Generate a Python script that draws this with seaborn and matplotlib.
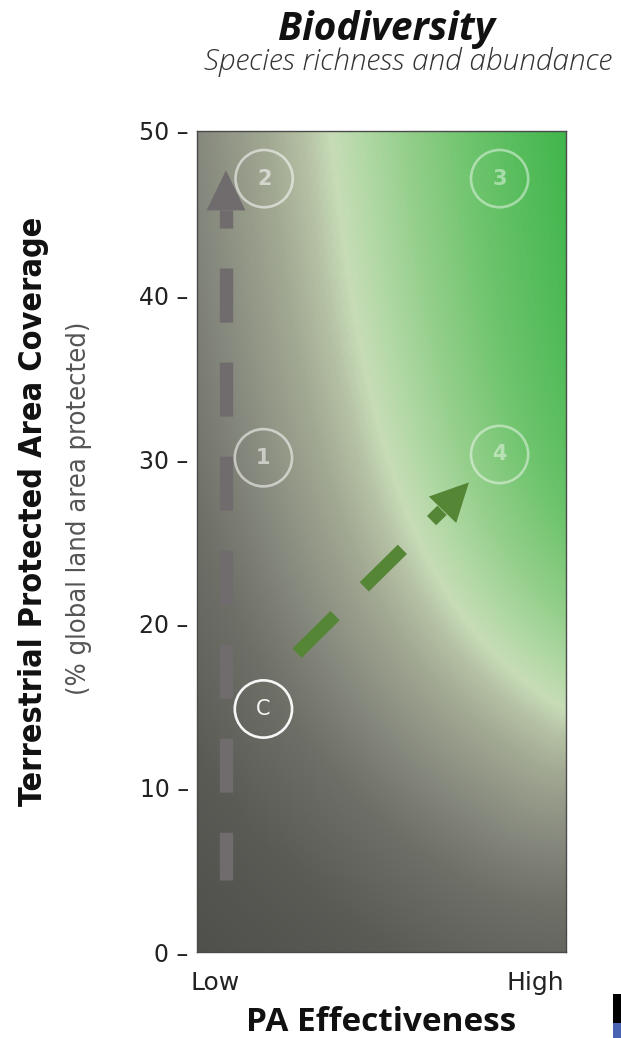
import numpy as np
import matplotlib
matplotlib.use("Agg")
import matplotlib.pyplot as plt
import seaborn as sns
import pandas as pd
from matplotlib.colors import LinearSegmentedColormap
from matplotlib.patches import Rectangle

# ---------------- data ----------------
circle_labels = ["2", "3", "1", "4", "C"]
circle_x = [0.182, 0.820, 0.180, 0.820, 0.180]      # PA effectiveness (0 = Low, 1 = High)
circle_y = [47.1, 47.1, 30.1, 30.3, 14.8]           # % coverage
circle_alpha = [0.55, 0.45, 0.55, 0.45, 0.95]

y_ticks = [0, 10, 20, 30, 40, 50]
x_tick_pos = [0.05, 0.917]
x_tick_labels = ["Low", "High"]

gray_shaft_x = [0.0786, 0.0786]
gray_shaft_y = [45.2, 4.4]
gray_tip = [0.0786, 47.6]

green_shaft_x = [0.271, 0.664]
green_shaft_y = [18.2, 26.9]
green_tip = [0.737, 28.6]

# light band of the background: (x - x0) * (y - y0) = c
band_x0 = 0.15
band_y0 = 3.0
band_c = 10.0

# ---------------- figure ----------------
sns.set_theme(style="white")
plt.rcParams["lines.scale_dashes"] = False
plt.rcParams["font.family"] = ["DejaVu Sans"]

W, H = 621, 1038
fig = plt.figure(figsize=(W / 100, H / 100), dpi=100)
fig.patch.set_facecolor("white")
ax_l, ax_b, ax_w, ax_h = 197, 86, 369, 821
ax = fig.add_axes([ax_l / W, ax_b / H, ax_w / W, ax_h / H])

# background gradient: signed pixel distance to the light band
px_x = ax_w / 1.0
px_y = ax_h / 50.0
nx, ny = 185, 410
gx = np.linspace(0, 1, nx)
gy = np.linspace(0, 50, ny)
cs = np.linspace(band_x0 + 0.004, 1.0, 700)
cy = band_y0 + band_c / (cs - band_x0)
CX, CY = cs * px_x, cy * px_y
field = np.zeros((ny, nx))
for j, yv in enumerate(gy):
    dx = gx[:, None] * px_x - CX[None, :]
    dy = yv * px_y - CY[None, :]
    d = np.sqrt(dx ** 2 + dy ** 2).min(axis=1)
    above = (gx > band_x0) & (yv > band_y0) & ((gx - band_x0) * (yv - band_y0) > band_c)
    field[j] = np.where(above, d, -d)

stops = [(-430, "#4f4f4b"), (-300, "#5a5b55"), (-200, "#6e6f67"), (-130, "#878a7e"),
         (-65, "#a1a892"), (-28, "#b4c0a3"), (0, "#c7dcb7"), (30, "#b3d9a6"),
         (75, "#95cf8c"), (140, "#6dc46c"), (240, "#3fb54b")]
lo, hi = stops[0][0], stops[-1][0]
cmap = LinearSegmentedColormap.from_list(
    "bio", [((v - lo) / (hi - lo), c) for v, c in stops])
ax.imshow(np.clip(field, lo, hi), origin="lower", extent=[0, 1, 0, 50],
          aspect="auto", cmap=cmap, vmin=lo, vmax=hi, interpolation="bilinear",
          zorder=0)

# circles
df = pd.DataFrame({"x": circle_x, "y": circle_y, "label": circle_labels})
for i, row in df.iterrows():
    sns.scatterplot(x=[row.x], y=[row.y], ax=ax, marker="o", s=1700,
                    facecolors="none", edgecolors="white", linewidths=1.9,
                    alpha=circle_alpha[i], zorder=3, legend=False)
    ax.text(row.x, row.y, row.label, ha="center", va="center", color="white",
            alpha=circle_alpha[i], fontsize=15,
            fontweight="normal" if row.label == "C" else "bold", zorder=4)

# gray dashed arrow
gray = "#706b6c"
ax.plot(gray_shaft_x, gray_shaft_y, color=gray, lw=9.6,
        linestyle=(25.9, (38.9, 28.8)), solid_capstyle="butt",
        dash_capstyle="butt", zorder=2)
ax.annotate("", xy=tuple(gray_tip), xytext=(gray_shaft_x[0], gray_shaft_y[0]),
            arrowprops=dict(arrowstyle="-|>,head_length=28.8,head_width=14",
                            mutation_scale=1, color=gray, lw=0,
                            shrinkA=0, shrinkB=0), zorder=2)

# green dashed arrow
green = "#558636"
ax.plot(green_shaft_x, green_shaft_y, color=green, lw=9.4,
        linestyle=(0, (38.5, 29.5)), solid_capstyle="butt",
        dash_capstyle="butt", zorder=2)
ax.annotate("", xy=tuple(green_tip), xytext=(green_shaft_x[1], green_shaft_y[1]),
            arrowprops=dict(arrowstyle="-|>,head_length=27.4,head_width=13.7",
                            mutation_scale=1, color=green, lw=0,
                            shrinkA=0, shrinkB=0), zorder=2)

ax.set_xlim(0, 1)
ax.set_ylim(0, 50)
ax.set_yticks(y_ticks)
ax.set_yticklabels([f"{v} \u2013" for v in y_ticks], fontsize=17, color="#222222")
ax.set_xticks(x_tick_pos)
ax.set_xticklabels(x_tick_labels, fontsize=18, color="#222222")
ax.tick_params(axis="both", length=0)
ax.tick_params(axis="y", pad=6)
ax.tick_params(axis="x", pad=14)
for sp in ax.spines.values():
    sp.set_color("#4a4a4a")
    sp.set_linewidth(1.0)
ax.set_xlabel("")
ax.set_ylabel("")

# texts
fig.text(386 / W, 1 - 40 / H, "Biodiversity", ha="center", va="baseline",
         fontsize=28, fontweight="bold", fontstyle="italic",
         family=["Open Sans", "DejaVu Sans"], color="#111111")
fig.text(407.5 / W, 1 - 70 / H, "Species richness and abundance", ha="center",
         va="baseline", fontsize=21.5, fontstyle="italic", fontweight="light",
         family=["Open Sans", "DejaVu Sans"], color="#333333")
fig.text(381 / W, 1 - 1031 / H, "PA Effectiveness", ha="center", va="baseline",
         fontsize=24, fontweight="bold", family=["Open Sans", "DejaVu Sans"],
         color="#111111")
fig.text(34 / W, 1 - 511 / H, "Terrestrial Protected Area Coverage", rotation=90,
         ha="center", va="center", fontsize=23.2, fontweight="bold",
         family=["Liberation Sans Narrow", "DejaVu Sans"], fontstretch="condensed",
         color="#111111")
fig.text(79 / W, 1 - 508 / H, "(% global land area protected)", rotation=90,
         ha="center", va="center", fontsize=19.5, fontweight="light",
         family=["Liberation Sans Narrow", "DejaVu Sans"], fontstretch="condensed",
         color="#555555")

# cropped neighbour fragment at lower-right corner
fig.patches.append(Rectangle((613 / W, 0), 8 / W, 44 / H, transform=fig.transFigure,
                             facecolor="black", edgecolor="none", zorder=5))
fig.patches.append(Rectangle((613 / W, 0), 8 / W, 15 / H, transform=fig.transFigure,
                             facecolor="#4a64b4", edgecolor="none", zorder=6))

fig.savefig("out.png", dpi=100, facecolor="white")
